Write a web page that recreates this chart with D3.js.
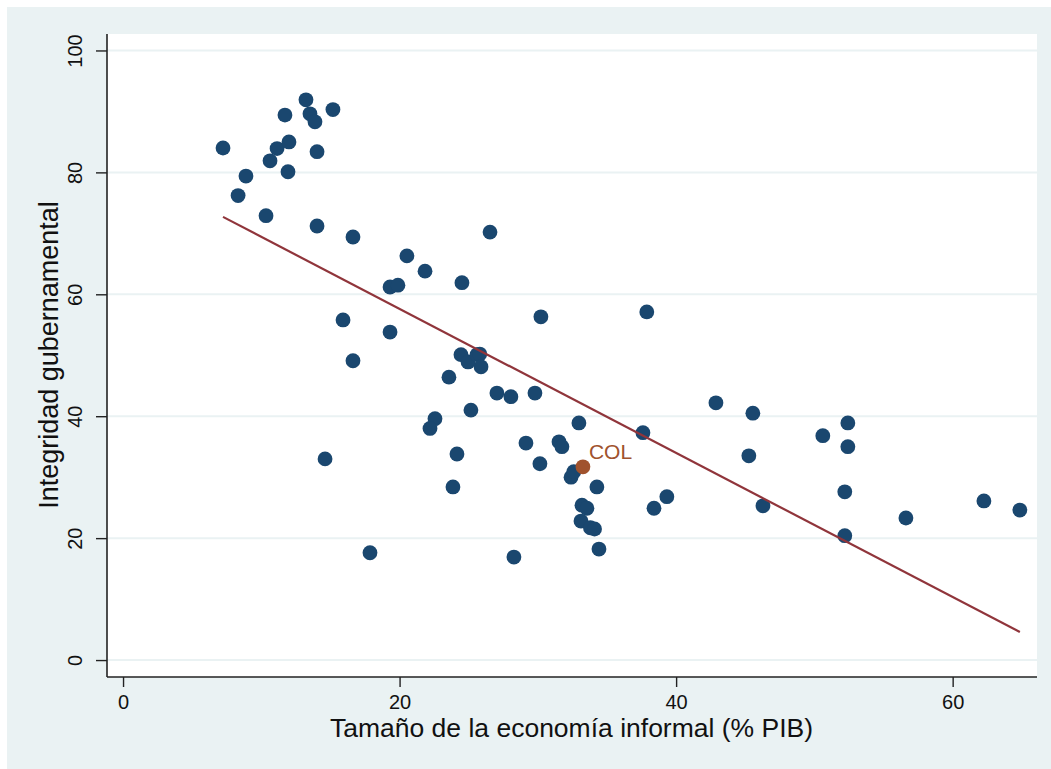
<!DOCTYPE html>
<html>
<head>
<meta charset="utf-8">
<script src="https://cdn.jsdelivr.net/npm/d3@7"></script>
<style>
  html, body { margin: 0; padding: 0; background: #ffffff; }
  svg { display: block; }
  text { font-family: "Liberation Sans", Arial, Helvetica, sans-serif; }
</style>
</head>
<body>
<svg id="chart" width="1051" height="769"></svg>
<script>
// Tamaño de la economía informal (% PIB) por país
const informal = [
  7.23, 8.32, 8.89, 10.34, 10.63, 11.14, 11.71, 12.0, 11.93, 13.23,
  13.52, 13.88, 14.03, 15.18, 14.03, 16.63, 15.91, 16.63, 14.61, 17.86,
  19.31, 19.88, 20.53, 21.84, 19.31, 24.51, 26.54, 30.22, 24.44, 24.95,
  25.6, 25.8, 25.89, 23.57, 27.04, 28.05, 29.79, 25.16, 22.56, 22.2,
  24.15, 23.86, 28.27, 29.14, 31.53, 31.74, 30.15, 32.4, 32.6, 32.97,
  34.27, 33.19, 33.55, 33.12, 33.8, 34.1, 34.42, 37.6, 37.88, 39.33,
  38.4, 42.88, 45.55, 45.26, 46.28, 50.61, 52.42, 52.42, 52.2, 52.2,
  56.62, 62.26, 64.86
];

// Integridad gubernamental por país
const integridad = [
  84.0, 76.2, 79.4, 72.9, 81.9, 83.9, 89.4, 85.0, 80.1, 91.9,
  89.6, 88.3, 83.4, 90.3, 71.2, 69.4, 55.8, 49.1, 33.0, 17.6,
  61.2, 61.5, 66.3, 63.8, 53.8, 61.9, 70.2, 56.3, 50.1, 48.9,
  50.1, 50.2, 48.1, 46.4, 43.8, 43.2, 43.8, 41.0, 39.6, 38.0,
  33.8, 28.4, 16.9, 35.6, 35.8, 35.0, 32.2, 30.0, 30.9, 38.9,
  28.4, 25.4, 24.9, 22.8, 21.7, 21.5, 18.2, 37.3, 57.1, 26.8,
  24.9, 42.2, 40.5, 33.5, 25.3, 36.8, 38.9, 35.0, 27.6, 20.4,
  23.3, 26.1, 24.6
];

// Colombia, destacada
const colLabel = "COL";
const colX = 33.26;
const colY = 31.7;

// Recta de ajuste lineal (extremos)
const fitX = [7.23, 64.86];
const fitY = [72.7, 4.6];

const xTicks = [0, 20, 40, 60];
const yTicks = [0, 20, 40, 60, 80, 100];

const xTitle = "Tamaño de la economía informal (% PIB)";
const yTitle = "Integridad gubernamental";

const W = 1051, H = 769;
const plot = { left: 107, right: 1037, top: 34, bottom: 677 };

const svg = d3.select("#chart");

// Fondos
svg.append("rect").attr("x", 0).attr("y", 0).attr("width", W).attr("height", H).attr("fill", "#ffffff");
svg.append("rect").attr("x", 7).attr("y", 7).attr("width", W - 7).attr("height", H - 7).attr("fill", "#eaf2f3");
svg.append("rect")
  .attr("x", plot.left).attr("y", plot.top)
  .attr("width", plot.right - plot.left).attr("height", plot.bottom - plot.top)
  .attr("fill", "#ffffff");

const x = d3.scaleLinear().domain([-1.16, 66.1]).range([plot.left, plot.right]);
const y = d3.scaleLinear().domain([-2.78, 102.7]).range([plot.bottom, plot.top]);

// Líneas de cuadrícula
svg.append("g")
  .selectAll("line")
  .data(yTicks)
  .join("line")
  .attr("x1", plot.left).attr("x2", plot.right)
  .attr("y1", d => y(d)).attr("y2", d => y(d))
  .attr("stroke", "#eaf2f3").attr("stroke-width", 2);

// Ejes
const xAxis = svg.append("g")
  .attr("transform", `translate(0,${plot.bottom})`)
  .call(d3.axisBottom(x).tickValues(xTicks).tickSize(10).tickPadding(4).tickSizeOuter(0));
xAxis.select(".domain").attr("d", `M${plot.left},0H${plot.right}`);

const yAxis = svg.append("g")
  .attr("transform", `translate(${plot.left},0)`)
  .call(d3.axisLeft(y).tickValues(yTicks).tickSize(11).tickPadding(6).tickSizeOuter(0));
yAxis.select(".domain").attr("d", `M0,${plot.top}V${plot.bottom}`);

[xAxis, yAxis].forEach(g => {
  g.select(".domain").attr("stroke", "#222").attr("stroke-width", 1.6);
  g.selectAll(".tick line").attr("stroke", "#222").attr("stroke-width", 1.4);
  g.selectAll(".tick text")
    .attr("fill", "#111")
    .style("font-family", '"Liberation Sans", Arial, sans-serif')
    .style("font-size", "20px");
});
xAxis.selectAll(".tick text").attr("dy", "0.9em");
yAxis.selectAll(".tick text")
  .attr("text-anchor", "middle")
  .attr("dy", null)
  .attr("transform", "translate(-32,0) rotate(-90)")
  .attr("x", 0).attr("y", 0)
  .attr("dominant-baseline", "central");

// Puntos
const pts = informal.map((v, i) => ({ x: v, y: integridad[i] }));
svg.append("g")
  .selectAll("circle")
  .data(pts)
  .join("circle")
  .attr("cx", d => x(d.x))
  .attr("cy", d => y(d.y))
  .attr("r", 7.4)
  .attr("fill", "#1a476f");

// Recta de ajuste
svg.append("line")
  .attr("x1", x(fitX[0])).attr("y1", y(fitY[0]))
  .attr("x2", x(fitX[1])).attr("y2", y(fitY[1]))
  .attr("stroke", "#90353b").attr("stroke-width", 2.2);

// Colombia
svg.append("circle")
  .attr("cx", x(colX)).attr("cy", y(colY))
  .attr("r", 7.4)
  .attr("fill", "#a0522d");
svg.append("text")
  .attr("x", x(colX) + 6).attr("y", y(colY) - 8)
  .attr("fill", "#a0522d")
  .style("font-size", "21px")
  .text(colLabel);

// Títulos de ejes
svg.append("text")
  .attr("x", 571.5).attr("y", 737)
  .attr("text-anchor", "middle")
  .attr("fill", "#111")
  .style("font-size", "26.5px")
  .text(xTitle);

svg.append("text")
  .attr("transform", `translate(58,355) rotate(-90)`)
  .attr("text-anchor", "middle")
  .attr("fill", "#111")
  .style("font-size", "27px")
  .text(yTitle);
</script>
</body>
</html>
